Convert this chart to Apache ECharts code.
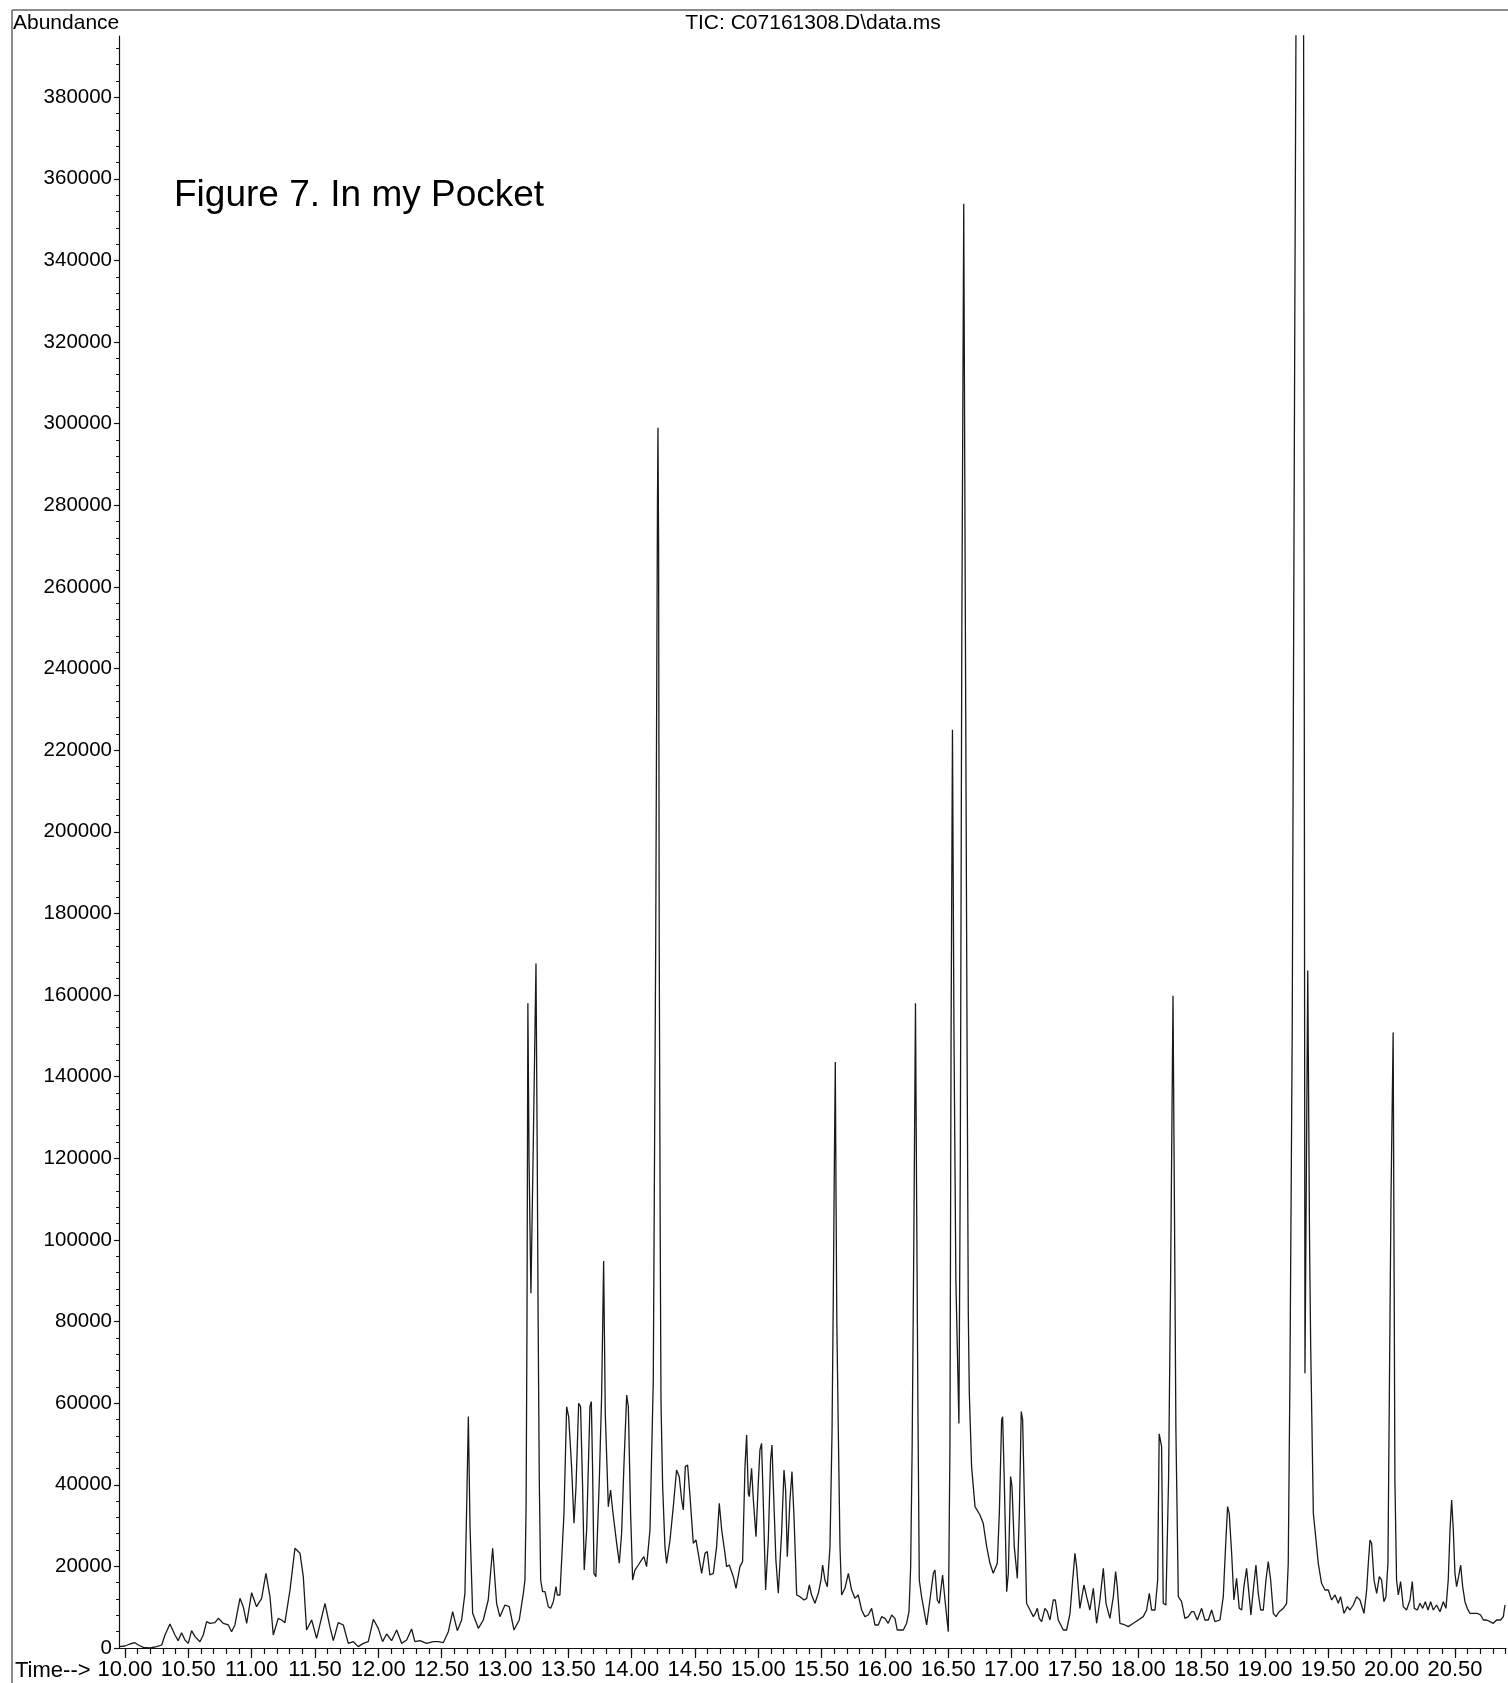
<!DOCTYPE html>
<html>
<head>
<meta charset="utf-8">
<title>TIC: C07161308.D\data.ms</title>
<script src="https://cdn.jsdelivr.net/npm/echarts@6/dist/echarts.min.js"></script>
<style>
  html, body { margin: 0; padding: 0; background: #fff; }
  #chart { width: 1508px; height: 1683px; }
</style>
</head>
<body>
<div id="chart"></div>
<script type="text/javascript">
'use strict';

// retention time (min)
var times = [
  9.953, 10.0, 10.039, 10.079, 10.105, 10.145, 10.197, 10.25, 10.29, 10.316,
  10.355, 10.395, 10.42, 10.447, 10.474, 10.5, 10.526, 10.553, 10.592, 10.618,
  10.645, 10.671, 10.71, 10.737, 10.776, 10.816, 10.842, 10.868, 10.908, 10.934,
  10.961, 11.0, 11.039, 11.079, 11.113, 11.145, 11.171, 11.21, 11.237, 11.263,
  11.303, 11.342, 11.382, 11.408, 11.434, 11.474, 11.513, 11.579, 11.618, 11.645,
  11.684, 11.724, 11.763, 11.803, 11.842, 11.882, 11.921, 11.961, 12.0, 12.034,
  12.066, 12.105, 12.145, 12.184, 12.224, 12.263, 12.289, 12.329, 12.382, 12.434,
  12.474, 12.513, 12.553, 12.587, 12.624, 12.658, 12.684, 12.698, 12.711, 12.724,
  12.745, 12.79, 12.829, 12.868, 12.903, 12.934, 12.96, 13.0, 13.034, 13.071,
  13.113, 13.145, 13.158, 13.167, 13.174, 13.181, 13.19, 13.205, 13.222, 13.245,
  13.255, 13.262, 13.271, 13.282, 13.297, 13.316, 13.342, 13.361, 13.382, 13.403,
  13.413, 13.434, 13.466, 13.487, 13.503, 13.526, 13.545, 13.561, 13.582, 13.597,
  13.613, 13.626, 13.645, 13.671, 13.682, 13.692, 13.703, 13.718, 13.745, 13.763,
  13.772, 13.779, 13.786, 13.792, 13.816, 13.834, 13.85, 13.882, 13.903, 13.921,
  13.939, 13.961, 13.974, 13.992, 14.008, 14.026, 14.053, 14.079, 14.097, 14.118,
  14.145, 14.171, 14.179, 14.19, 14.204, 14.208, 14.213, 14.218, 14.226, 14.232,
  14.245, 14.263, 14.276, 14.303, 14.329, 14.355, 14.376, 14.395, 14.408, 14.424,
  14.442, 14.461, 14.487, 14.508, 14.526, 14.553, 14.579, 14.597, 14.618, 14.645,
  14.671, 14.692, 14.711, 14.737, 14.75, 14.771, 14.803, 14.824, 14.834, 14.855,
  14.876, 14.895, 14.908, 14.921, 14.929, 14.947, 14.961, 14.982, 15.0, 15.013,
  15.026, 15.039, 15.058, 15.079, 15.097, 15.108, 15.118, 15.139, 15.158, 15.184,
  15.203, 15.216, 15.229, 15.25, 15.266, 15.282, 15.303, 15.329, 15.342, 15.361,
  15.382, 15.403, 15.421, 15.447, 15.474, 15.495, 15.508, 15.526, 15.545, 15.566,
  15.582, 15.592, 15.601, 15.608, 15.614, 15.62, 15.632, 15.645, 15.658, 15.684,
  15.711, 15.737, 15.763, 15.789, 15.816, 15.842, 15.868, 15.895, 15.921, 15.947,
  15.974, 16.0, 16.026, 16.053, 16.079, 16.097, 16.145, 16.171, 16.19, 16.203,
  16.215, 16.228, 16.241, 16.25, 16.26, 16.271, 16.289, 16.329, 16.355, 16.382,
  16.395, 16.413, 16.429, 16.455, 16.474, 16.5, 16.513, 16.522, 16.533, 16.545,
  16.56, 16.584, 16.595, 16.607, 16.622, 16.635, 16.648, 16.658, 16.666, 16.684,
  16.711, 16.75, 16.776, 16.803, 16.829, 16.855, 16.868, 16.887, 16.903, 16.921,
  16.929, 16.942, 16.961, 16.974, 16.992, 17.003, 17.021, 17.045, 17.061, 17.076,
  17.087, 17.103, 17.118, 17.145, 17.171, 17.187, 17.203, 17.218, 17.237, 17.263,
  17.282, 17.303, 17.329, 17.345, 17.368, 17.408, 17.434, 17.461, 17.482, 17.5,
  17.513, 17.539, 17.571, 17.592, 17.618, 17.645, 17.671, 17.697, 17.724, 17.745,
  17.776, 17.803, 17.821, 17.834, 17.855, 17.895, 17.921, 17.961, 18.0, 18.039,
  18.066, 18.087, 18.105, 18.132, 18.153, 18.165, 18.184, 18.197, 18.218, 18.239,
  18.255, 18.274, 18.285, 18.297, 18.316, 18.342, 18.368, 18.395, 18.421, 18.439,
  18.466, 18.5, 18.526, 18.553, 18.579, 18.605, 18.645, 18.671, 18.689, 18.705,
  18.718, 18.737, 18.755, 18.776, 18.797, 18.816, 18.834, 18.855, 18.876, 18.889,
  18.908, 18.929, 18.947, 18.966, 18.987, 19.008, 19.026, 19.045, 19.066, 19.087,
  19.113, 19.145, 19.171, 19.184, 19.197, 19.215, 19.235, 19.245, 19.305, 19.316,
  19.338, 19.352, 19.361, 19.382, 19.403, 19.421, 19.447, 19.474, 19.5, 19.526,
  19.553, 19.579, 19.597, 19.624, 19.651, 19.671, 19.697, 19.724, 19.75, 19.782,
  19.803, 19.816, 19.829, 19.842, 19.861, 19.882, 19.903, 19.921, 19.939, 19.955,
  19.971, 19.982, 19.995, 20.012, 20.02, 20.026, 20.039, 20.053, 20.071, 20.092,
  20.118, 20.145, 20.163, 20.179, 20.203, 20.224, 20.245, 20.266, 20.287, 20.308,
  20.329, 20.355, 20.382, 20.408, 20.429, 20.447, 20.461, 20.474, 20.487, 20.5,
  20.513, 20.529, 20.545, 20.561, 20.579, 20.597, 20.618, 20.645, 20.676, 20.703,
  20.724, 20.75, 20.776, 20.803, 20.829, 20.861, 20.882, 20.895
];

// abundance at each time above (the 19.25 peak runs off the top of the scale)
var abundance = [
  330, 490, 980, 1300, 735, 160, 0, 330, 735, 3190,
  5880, 3190, 1800, 3760, 1960, 1140, 4250, 2780, 1550, 3190,
  6450, 6050, 6200, 7270, 6050, 5640, 4000, 5640, 12170, 10130,
  6050, 13560, 10130, 12170, 18300, 12580, 3190, 7270, 6860, 6210,
  14210, 24430, 23200, 17480, 4410, 6860, 2370, 10950, 5230, 1800,
  6210, 5640, 1140, 1550, 330, 1140, 1550, 7030, 4820, 1550,
  3430, 1800, 4410, 1140, 1960, 4660, 1550, 1800, 1140, 1550,
  1550, 1300, 4000, 8900, 4250, 6860, 13400, 35000, 56700, 30000,
  8500, 4820, 6860, 11760, 24430, 10950, 7680, 10540, 10130, 4410,
  6860, 13400, 16660, 35000, 80000, 158000, 120000, 86900, 120000, 167700,
  120000, 80000, 41170, 16660, 13800, 13800, 10130, 9720, 11350, 15030,
  12990, 12990, 33000, 59140, 56690, 44440, 30550, 39540, 59960, 59140,
  39540, 19100, 28920, 59140, 60370, 43620, 18300, 17480, 41170, 61600,
  80000, 94800, 75000, 57510, 34640, 38720, 33820, 25650, 20750, 28100,
  44440, 62000, 59140, 33000, 16660, 19100, 20340, 21570, 22380, 19930,
  28920, 65680, 110000, 172000, 280000, 299000, 270000, 172000, 100000, 60000,
  39540, 24830, 20750, 26470, 34640, 43620, 41990, 36270, 33820, 44440,
  44850, 37090, 25650, 26470, 23200, 18300, 23200, 23610, 17890, 18300,
  24830, 35450, 28920, 23200, 19930, 20340, 17480, 14620, 15030, 19930,
  21160, 44440, 52200, 37900, 37090, 44030, 36270, 27280, 40350, 48520,
  50160, 36270, 14210, 26470, 46070, 49750, 40350, 21570, 13400, 28100,
  43620, 38720, 22380, 36270, 43210, 32190, 12990, 12580, 12990, 11760,
  12170, 15440, 12990, 10950, 13400, 16660, 20340, 16660, 15030, 24830,
  52610, 85290, 120000, 143600, 110000, 80000, 52610, 24830, 12990, 14620,
  18300, 14210, 12170, 12990, 9310, 7680, 8090, 9720, 5640, 5640,
  7680, 7270, 6050, 8090, 7270, 4410, 4410, 6050, 9000, 19930,
  50000, 100000, 158000, 110000, 60000, 16660, 12580, 5640, 11760, 18300,
  19110, 11760, 10950, 17890, 11760, 4000, 49340, 150000, 225000, 150000,
  90000, 55000, 120000, 250000, 353900, 250000, 150000, 82020, 62410, 44440,
  34640, 32590, 30550, 24830, 20750, 18300, 18300, 20750, 33000, 55880,
  56690, 41170, 13800, 18300, 41990, 39540, 24830, 17070, 33000, 57920,
  55880, 33000, 10950, 9310, 7680, 8500, 9720, 7270, 6450, 9720,
  8900, 6860, 11760, 11760, 6860, 4410, 4410, 8500, 16660, 23200,
  19930, 9720, 15440, 12580, 9310, 14620, 6050, 11760, 19520, 10950,
  7270, 12580, 18710, 15030, 6050, 5640, 5230, 6050, 6860, 7680,
  9310, 13400, 9310, 9310, 16660, 52500, 49340, 10950, 10540, 41170,
  90000, 159800, 110000, 53430, 12580, 11350, 7270, 7680, 8900, 8900,
  6860, 9720, 6860, 6860, 9310, 6450, 6860, 12580, 24830, 34640,
  33000, 23200, 11760, 17070, 9720, 9310, 15030, 19520, 12580, 8090,
  14210, 20340, 13400, 9310, 9310, 16660, 21160, 16660, 8500, 7680,
  8900, 9720, 10950, 20750, 65680, 150000, 320000, 398000, 398000, 67300,
  166000, 100000, 74000, 33000, 26470, 20750, 15850, 14210, 14210, 11760,
  12990, 10950, 12580, 8500, 10130, 9310, 10540, 12580, 11760, 8500,
  14210, 20750, 26470, 25650, 16660, 13400, 17480, 16660, 11350, 12580,
  20750, 61600, 110000, 150800, 90000, 41170, 16660, 12990, 16260, 10130,
  9310, 11760, 16260, 9720, 9310, 10950, 9720, 11350, 9310, 11350,
  9310, 10540, 8900, 11350, 9720, 16660, 28920, 36270, 28920, 18300,
  15030, 17480, 20340, 15030, 11350, 9720, 8500, 8500, 8500, 8090,
  6860, 6860, 6450, 6050, 6860, 6860, 7680, 10540
];

var yTickLabels = [
  '0', '20000', '40000', '60000', '80000', '100000', '120000', '140000', '160000', '180000',
  '200000', '220000', '240000', '260000', '280000', '300000', '320000', '340000', '360000', '380000'
];
var xTickLabels = [
  '10.00', '10.50', '11.00', '11.50', '12.00', '12.50', '13.00', '13.50', '14.00', '14.50', '15.00',
  '15.50', '16.00', '16.50', '17.00', '17.50', '18.00', '18.50', '19.00', '19.50', '20.00', '20.50'
];

var FONT = '"Liberation Sans", Arial, Helvetica, sans-serif';
var X_MIN = 9.953, X_MAX = 20.903;
var Y_MAX = 395000;

var points = times.map(function (t, i) { return [t, abundance[i]]; });
var xMajor = xTickLabels.map(Number);
var yMajor = yTickLabels.map(Number);
var xMinor = [];
for (var k = 100; k <= 209; k++) xMinor.push(k / 10);
var yMinor = [];
for (var v = 0; v <= 392000; v += 4000) yMinor.push(v);

var dom = document.getElementById('chart');
var chart = echarts.init(dom, null, { renderer: 'canvas' });

var option = {
    animation: false,
    backgroundColor: '#ffffff',
    grid: { left: 119, right: 2, top: 36, bottom: 35 },
    xAxis: [{
        type: 'value', min: X_MIN, max: X_MAX, position: 'bottom',
        axisLine: { onZero: false, lineStyle: { color: '#111', width: 1.2 } },
        axisTick: { customValues: xMajor, length: 10, lineStyle: { color: '#111', width: 1.2 } },
        axisLabel: {
            customValues: xMajor, margin: 11, fontSize: 22, color: '#000', fontFamily: FONT,
            formatter: function (val) { return val.toFixed(2); }
        },
        splitLine: { show: false }
    }, {
        type: 'value', min: X_MIN, max: X_MAX, position: 'bottom',
        axisLine: { show: false, onZero: false },
        axisTick: { customValues: xMinor, length: 6, lineStyle: { color: '#111', width: 1.2 } },
        axisLabel: { show: false },
        splitLine: { show: false }
    }],
    yAxis: [{
        type: 'value', min: 0, max: Y_MAX, position: 'left',
        axisLine: { show: true, onZero: false, lineStyle: { color: '#111', width: 1.2 } },
        axisTick: { show: true, customValues: yMajor, length: 5, lineStyle: { color: '#111', width: 1.2 } },
        axisLabel: {
            customValues: yMajor, margin: 7, fontSize: 20.5, color: '#000', fontFamily: FONT,
            formatter: function (val) { return String(val); }
        },
        splitLine: { show: false }
    }, {
        type: 'value', min: 0, max: Y_MAX, position: 'left',
        axisLine: { show: false, onZero: false },
        axisTick: { show: true, customValues: yMinor, length: 3, lineStyle: { color: '#111', width: 1 } },
        axisLabel: { show: false },
        splitLine: { show: false }
    }],
    series: [{
        type: 'line',
        xAxisIndex: 0,
        yAxisIndex: 0,
        data: points,
        symbol: 'none',
        showSymbol: false,
        clip: true,
        silent: true,
        lineStyle: { color: '#1a1a1a', width: 1.3 }
    }],
    graphic: [
        { type: 'line', shape: { x1: 12, y1: 10, x2: 1508, y2: 10 }, style: { stroke: '#666', lineWidth: 1.5 } },
        { type: 'line', shape: { x1: 12, y1: 10, x2: 12, y2: 1683 }, style: { stroke: '#666', lineWidth: 1.5 } },
        { type: 'text', x: 13, y: 23, style: { text: 'Abundance', font: '21px ' + FONT, fill: '#000', align: 'left', verticalAlign: 'middle' } },
        { type: 'text', x: 813, y: 23, style: { text: 'TIC: C07161308.D\\data.ms', font: '21px ' + FONT, fill: '#000', align: 'center', verticalAlign: 'middle' } },
        { type: 'text', x: 174, y: 196, style: { text: 'Figure 7. In my Pocket', font: '37px ' + FONT, fill: '#000', align: 'left', verticalAlign: 'middle' } },
        { type: 'text', x: 15, y: 1671, style: { text: 'Time-->', font: '22px ' + FONT, fill: '#000', align: 'left', verticalAlign: 'middle' } }
    ]
};

chart.setOption(option);
</script>
</body>
</html>
